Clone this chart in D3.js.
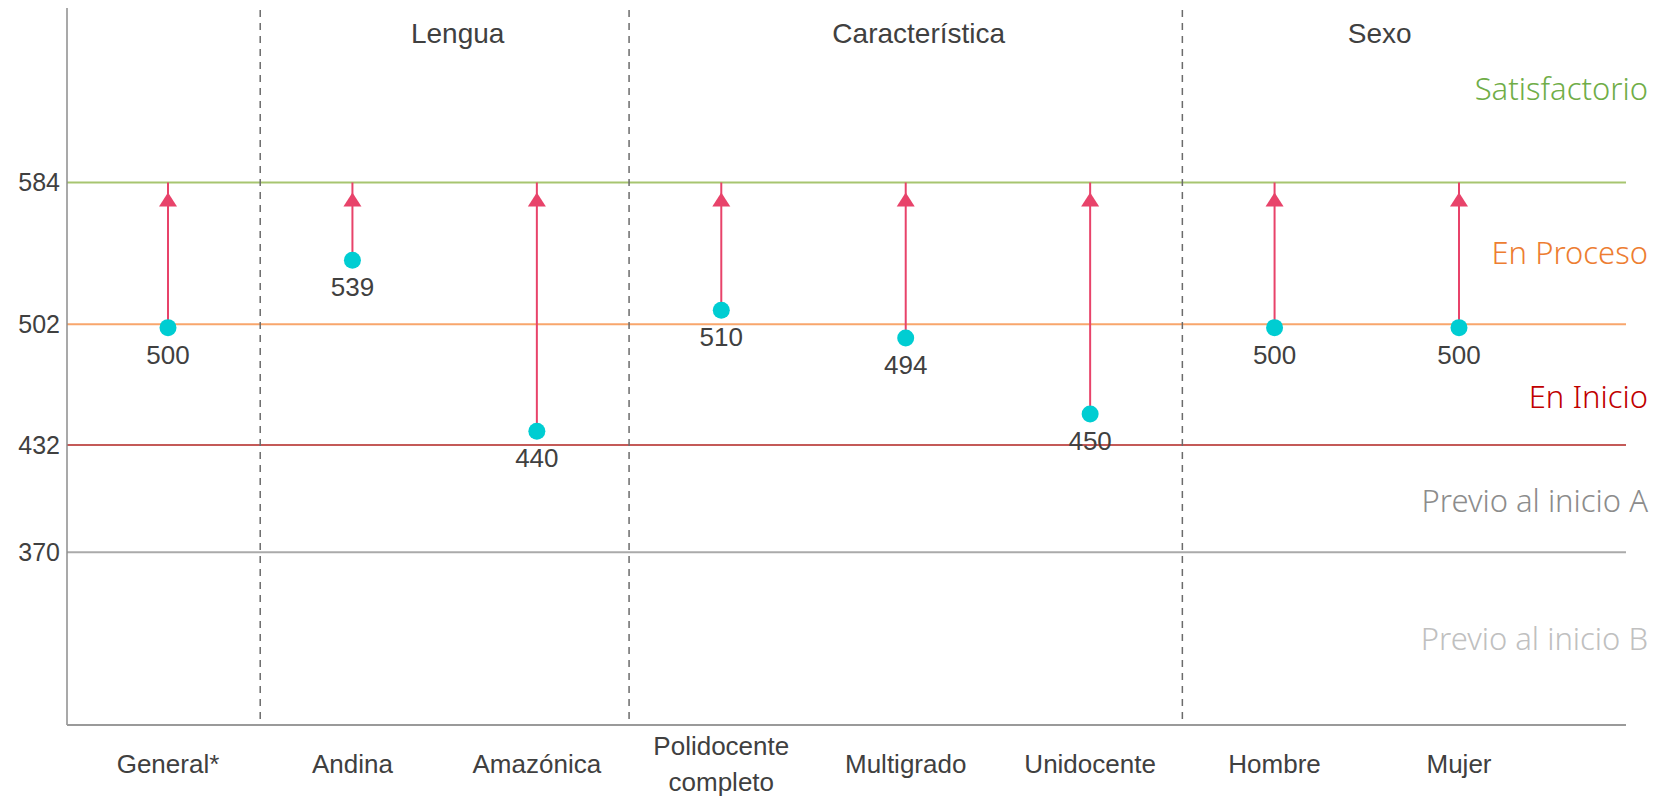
<!DOCTYPE html>
<html>
  <head>
    <meta charset="utf-8" />
    <style>
      body {
        margin: 0;
        background: #fff;
      }
      text {
        font-family: "Liberation Sans", Arial, sans-serif;
        fill: #404040;
      }
      .level text {
        font-family: "Noto Sans", sans-serif;
        font-weight: 300;
      }
    </style>
  </head>
  <body>
    <svg width="1655" height="796"></svg>
    <script src="https://d3js.org/d3.v7.min.js"></script>
    <script>
      // data
      var categories = ["General*", "Andina", "Amazónica", "Polidocente completo", "Multigrado", "Unidocente", "Hombre", "Mujer"];
      var scores = [500, 539, 440, 510, 494, 450, 500, 500];
      var target = 584;

      var groupNames = ["Lengua", "Característica", "Sexo"];
      var groupMembers = [["Andina", "Amazónica"], ["Polidocente completo", "Multigrado", "Unidocente"], ["Hombre", "Mujer"]];
      // dashed separators sit between these pairs
      var separators = [["General*", "Andina"], ["Amazónica", "Polidocente completo"], ["Unidocente", "Hombre"]];

      var thresholds = [584, 502, 432, 370];
      var thresholdColors = ["#a7c570", "#f8a66c", "#c45a58", "#aaaaaa"];

      var levelNames = ["Satisfactorio", "En Proceso", "En Inicio", "Previo al inicio A", "Previo al inicio B"];
      var levelAt = [638, 543, 460, 400, 320];
      var levelColors = ["#70ad47", "#ed7d31", "#c00000", "#8c8c8c", "#c0c0c0"];

      var svg = d3.select("svg");
      var plotLeft = 67,
        plotRight = 1626,
        plotTop = 8,
        plotBottom = 725;

      var x = d3.scalePoint().domain(categories).range([168, 1459]);
      var y = d3.scaleLinear().domain([270, 685]).range([plotBottom, plotTop]);

      // threshold lines
      svg
        .append("g")
        .selectAll("line")
        .data(thresholds)
        .enter()
        .append("line")
        .attr("x1", plotLeft)
        .attr("x2", plotRight)
        .attr("y1", (d) => y(d))
        .attr("y2", (d) => y(d))
        .attr("stroke", (d, i) => thresholdColors[i])
        .attr("stroke-width", 2);

      // y axis: only the threshold values as ticks
      var yAxis = svg
        .append("g")
        .attr("transform", "translate(" + plotLeft + ",0)")
        .call(d3.axisLeft(y).tickValues(thresholds).tickSize(0).tickPadding(7));
      yAxis.select(".domain").remove();
      yAxis.selectAll("text").style("font-size", "25px").style("font-family", "Liberation Sans, Arial, sans-serif").attr("fill", "#3a3a3a");

      // frame lines
      svg.append("line").attr("x1", plotLeft).attr("x2", plotLeft).attr("y1", plotTop).attr("y2", plotBottom).attr("stroke", "#8c8c8c").attr("stroke-width", 1.5);
      svg.append("line").attr("x1", plotLeft).attr("x2", plotRight).attr("y1", plotBottom).attr("y2", plotBottom).attr("stroke", "#9a9a9a").attr("stroke-width", 2);

      // dashed separators
      svg
        .append("g")
        .selectAll("line")
        .data(separators)
        .enter()
        .append("line")
        .attr("x1", (d) => (x(d[0]) + x(d[1])) / 2)
        .attr("x2", (d) => (x(d[0]) + x(d[1])) / 2)
        .attr("y1", plotTop + 2)
        .attr("y2", plotBottom)
        .attr("stroke", "#6b6b6b")
        .attr("stroke-width", 1.5)
        .attr("stroke-dasharray", "7,6");

      // group headers
      svg
        .append("g")
        .selectAll("text")
        .data(groupNames)
        .enter()
        .append("text")
        .attr("x", (d, i) => d3.mean(groupMembers[i], (c) => x(c)) + 13)
        .attr("y", 43)
        .attr("text-anchor", "middle")
        .style("font-size", "28px")
        .text((d) => d);

      // level labels on the right
      svg
        .append("g")
        .attr("class", "level")
        .selectAll("text")
        .data(levelNames)
        .enter()
        .append("text")
        .attr("x", 1648)
        .attr("y", (d, i) => y(levelAt[i]))
        .attr("dy", "0.36em")
        .attr("text-anchor", "end")
        .style("fill", (d, i) => levelColors[i])
        .style("font-size", "31px")
        .text((d) => d);

      var points = categories.map((c, i) => ({ cat: c, value: scores[i] }));

      // arrows from score up to target
      var arrows = svg.append("g").selectAll("g").data(points).enter().append("g");
      arrows
        .append("line")
        .attr("x1", (d) => x(d.cat))
        .attr("x2", (d) => x(d.cat))
        .attr("y1", (d) => y(d.value))
        .attr("y2", y(target))
        .attr("stroke", "#e8436a")
        .attr("stroke-width", 2);
      arrows
        .append("path")
        .attr("d", function (d) {
          var cx = x(d.cat),
            ty = y(target) + 10;
          return "M" + cx + "," + ty + "L" + (cx + 9) + "," + (ty + 14) + "L" + (cx - 9) + "," + (ty + 14) + "Z";
        })
        .attr("fill", "#e8436a");

      // score dots
      svg
        .append("g")
        .selectAll("circle")
        .data(points)
        .enter()
        .append("circle")
        .attr("cx", (d) => x(d.cat))
        .attr("cy", (d) => y(d.value))
        .attr("r", 8.5)
        .attr("fill", "#00cdd2");

      // score labels
      svg
        .append("g")
        .selectAll("text")
        .data(points)
        .enter()
        .append("text")
        .attr("x", (d) => x(d.cat))
        .attr("y", (d) => y(d.value) + 36)
        .attr("text-anchor", "middle")
        .style("font-size", "26px")
        .text((d) => d.value);

      // category labels, wrapped at spaces for two-word names
      var catLabels = svg
        .append("g")
        .selectAll("text")
        .data(categories)
        .enter()
        .append("text")
        .attr("x", (d) => x(d))
        .attr("y", 773)
        .attr("text-anchor", "middle")
        .style("font-size", "26px");
      catLabels.each(function (d) {
        var words = d.split(" ");
        var t = d3.select(this);
        words.forEach(function (w, i) {
          t.append("tspan")
            .attr("x", x(d))
            .attr("dy", i == 0 ? -(words.length - 1) * 18 + "px" : "36px")
            .text(w);
        });
      });
    </script>
  </body>
</html>
